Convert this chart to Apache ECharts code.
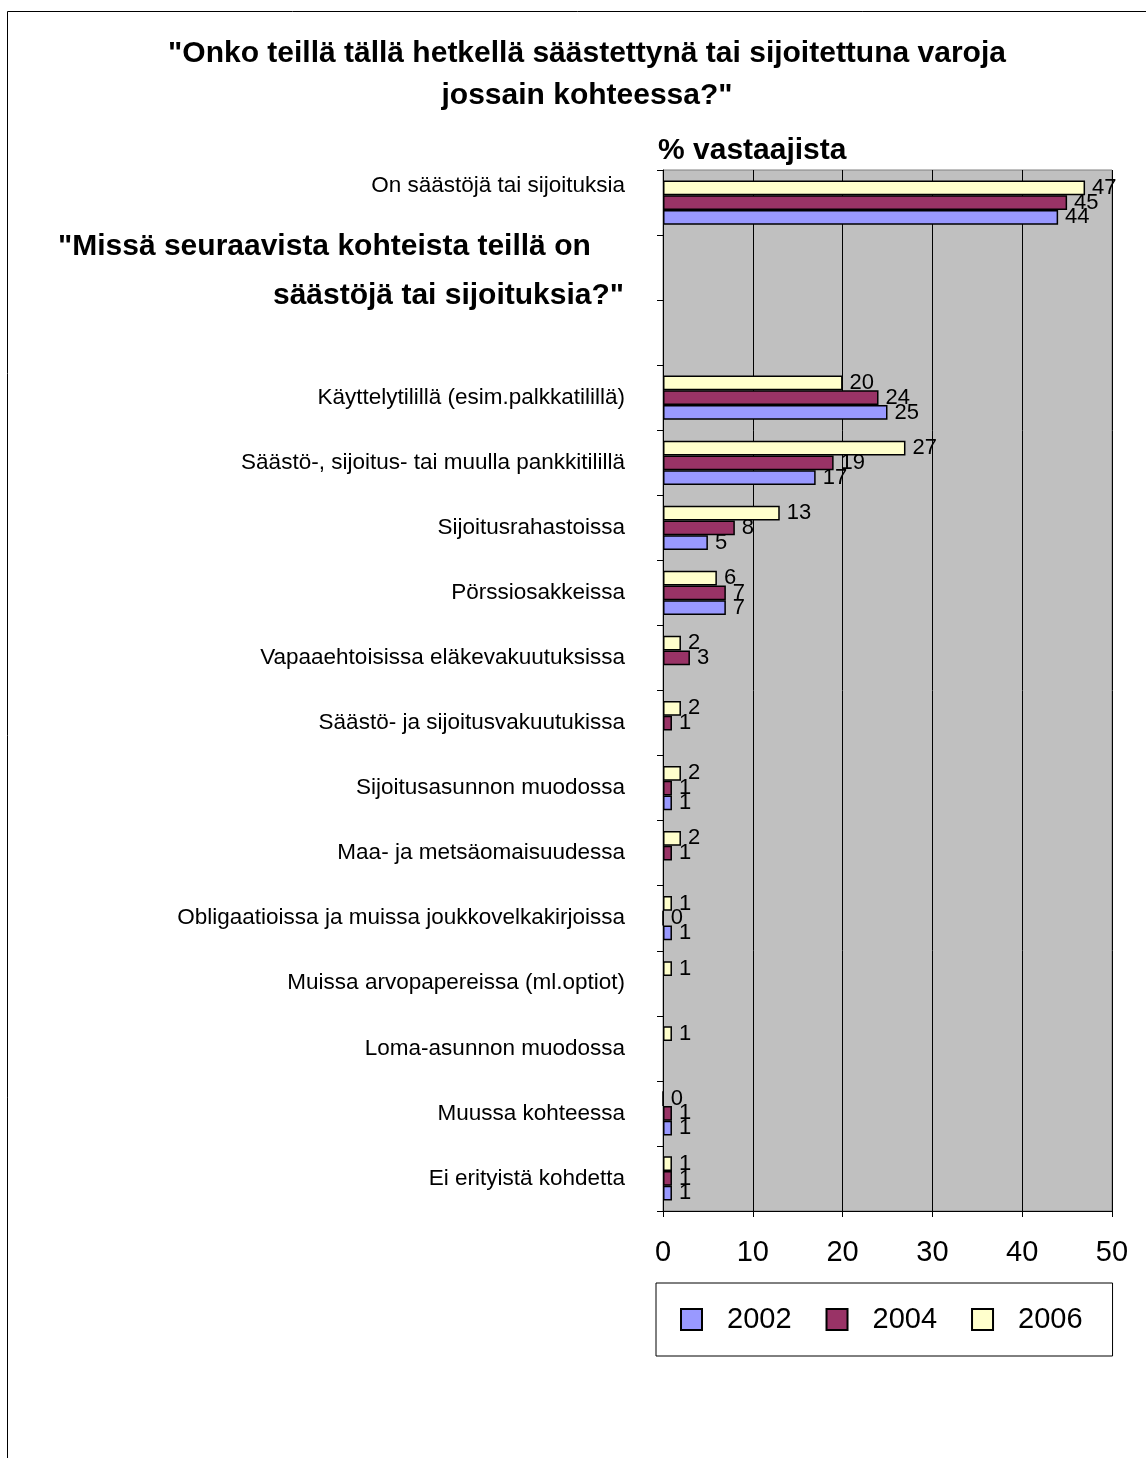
<!DOCTYPE html>
<html>
<head>
<meta charset="utf-8">
<script src="https://cdn.jsdelivr.net/npm/echarts@6/dist/echarts.min.js"></script>
<style>
html,body{margin:0;padding:0;background:#fff;}
#chart{width:1146px;height:1458px;}
</style>
</head>
<body>
<div id="chart"></div>
<script>
// ---- data (top to bottom) ----
const categories = [
  'On säästöjä tai sijoituksia',
  '',
  ' ',
  'Käyttelytilillä (esim.palkkatilillä)',
  'Säästö-, sijoitus- tai muulla pankkitilillä',
  'Sijoitusrahastoissa',
  'Pörssiosakkeissa',
  'Vapaaehtoisissa eläkevakuutuksissa',
  'Säästö- ja sijoitusvakuutukissa',
  'Sijoitusasunnon muodossa',
  'Maa- ja metsäomaisuudessa',
  'Obligaatioissa ja muissa joukkovelkakirjoissa',
  'Muissa arvopapereissa (ml.optiot)',
  'Loma-asunnon muodossa',
  'Muussa kohteessa',
  'Ei erityistä kohdetta'
];
const years = ['2002', '2004', '2006'];
const values2002 = [44, null, null, 25, 17, 5, 7, null, null, 1, null, 1, null, null, 1, 1];
const values2004 = [45, null, null, 24, 19, 8, 7, 3, 1, 1, 1, 0, null, null, 1, 1];
const values2006 = [47, null, null, 20, 27, 13, 6, 2, 2, 2, 2, 1, 1, 1, 0, 1];
const xTicks = [0, 10, 20, 30, 40, 50];

const titleLines = ['"Onko teillä tällä hetkellä säästettynä tai sijoitettuna varoja', 'jossain kohteessa?"'];
const subtitleLines = ['"Missä seuraavista kohteista teillä on', 'säästöjä tai sijoituksia?"'];
const unitLabel = '% vastaajista';

const FONT = '"Liberation Sans", Arial, Helvetica, sans-serif';
const colors = {'2002': '#9999FF', '2004': '#993366', '2006': '#FFFFCC'};

const chart = echarts.init(document.getElementById('chart'), null, {renderer: 'canvas'});

function barSeries(name, data) {
  return {
    name: name,
    type: 'bar',
    data: data,
    barCategoryGap: '32%',
    barGap: '0%',
    itemStyle: {color: colors[name], borderColor: '#000', borderWidth: 1.5},
    label: {
      show: true, position: 'right', distance: 7,
      fontFamily: FONT, fontSize: 22, color: '#000',
      formatter: p => (p.value === null || p.value === undefined) ? '' : String(p.value)
    },
    emphasis: {disabled: true},
    animation: false
  };
}

const option = {
  backgroundColor: '#ffffff',
  animation: false,
  textStyle: {fontFamily: FONT},
  grid: {
    left: 663, right: 34, top: 170, bottom: 247,
    show: true, backgroundColor: '#C0C0C0', borderColor: '#808080', borderWidth: 1,
    containLabel: false
  },
  xAxis: {
    type: 'value', min: xTicks[0], max: xTicks[xTicks.length - 1], interval: 10,
    axisLine: {show: true, lineStyle: {color: '#000', width: 1}},
    axisTick: {show: true, length: 6, lineStyle: {color: '#000'}},
    axisLabel: {fontFamily: FONT, fontSize: 29, color: '#000', margin: 27},
    splitLine: {show: true, lineStyle: {color: '#000', width: 1}}
  },
  yAxis: {
    type: 'category', inverse: true, data: categories,
    axisLine: {show: true, lineStyle: {color: '#000', width: 1}},
    axisTick: {show: true, length: 6, lineStyle: {color: '#000'}},
    axisLabel: {
      fontFamily: FONT, fontSize: 22.5, color: '#000', margin: 38, interval: 0,
      formatter: (v, i) => i === 0 ? '{up|' + v + '}' : v,
      rich: {up: {fontFamily: FONT, fontSize: 22.5, color: '#000', padding: [0, 0, 34, 0]}}
    },
    splitLine: {show: false}
  },
  legend: {
    data: years,
    left: 656, top: 1283,
    orient: 'horizontal',
    icon: 'rect',
    itemWidth: 21, itemHeight: 21, itemGap: 34,
    padding: [22, 30, 22, 24],
    borderColor: '#000', borderWidth: 1, backgroundColor: '#fff',
    textStyle: {fontFamily: FONT, fontSize: 29, color: '#000', padding: [0, 0, 0, 20]},
    selectedMode: false
  },
  series: [
    barSeries('2006', values2006),
    barSeries('2004', values2004),
    barSeries('2002', values2002)
  ],
  graphic: [
    {type: 'rect', silent: true, z: -10, shape: {x: 7.5, y: 11.5, width: 1300, height: 1600},
     style: {fill: 'none', stroke: '#000', lineWidth: 1}},
    {type: 'text', x: 587, y: 54, style: {text: titleLines[0], font: 'bold 30px ' + FONT, fill: '#000', textAlign: 'center', textVerticalAlign: 'middle'}},
    {type: 'text', x: 587, y: 96, style: {text: titleLines[1], font: 'bold 30px ' + FONT, fill: '#000', textAlign: 'center', textVerticalAlign: 'middle'}},
    {type: 'text', x: 658, y: 151, style: {text: unitLabel, font: 'bold 30px ' + FONT, fill: '#000', textAlign: 'left', textVerticalAlign: 'middle'}},
    {type: 'text', x: 58, y: 247, style: {text: subtitleLines[0], font: 'bold 30px ' + FONT, fill: '#000', textAlign: 'left', textVerticalAlign: 'middle'}},
    {type: 'text', x: 624, y: 296, style: {text: subtitleLines[1], font: 'bold 30px ' + FONT, fill: '#000', textAlign: 'right', textVerticalAlign: 'middle'}}
  ]
};
chart.setOption(option);
</script>
</body>
</html>
